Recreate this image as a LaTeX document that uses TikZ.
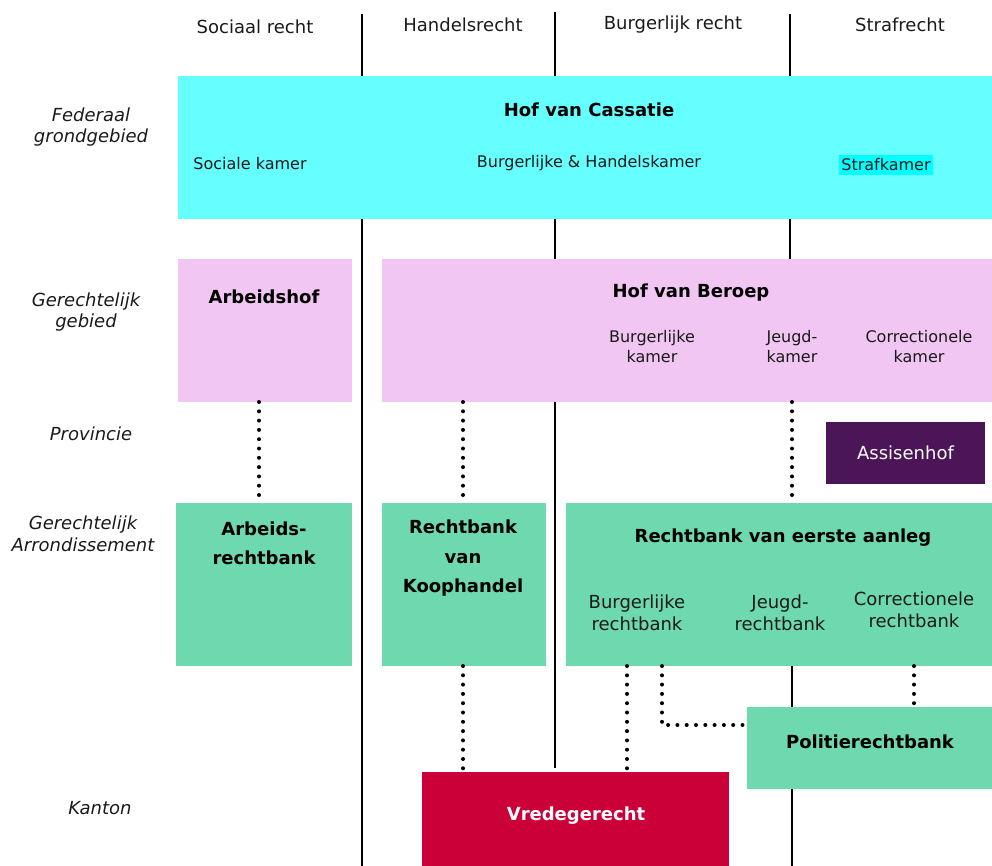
\documentclass[tikz,border=0pt]{standalone}
\usepackage{fontspec}
\setmainfont{DejaVu Sans}
\usetikzlibrary{calc}
\definecolor{cyanbox}{HTML}{66FFFF}
\definecolor{cyanhl}{HTML}{00FFFF}
\definecolor{pinkbox}{HTML}{F1C6F2}
\definecolor{greenbox}{HTML}{6ED8AE}
\definecolor{purplebox}{HTML}{4B1558}
\definecolor{redbox}{HTML}{CC0039}
\definecolor{txt}{HTML}{1A1A1A}
\begin{document}
\begin{tikzpicture}[x=1pt,y=-1pt,
  box/.style={anchor=north west, inner sep=0pt, outer sep=0pt, draw=none},
  big/.style={font=\fontsize{18}{22}\selectfont, align=center, inner sep=0pt, text=txt},
  bigb/.style={font=\fontsize{18}{29.5}\selectfont\bfseries, align=center, inner sep=0pt},
  small/.style={font=\fontsize{16}{20}\selectfont, align=center, inner sep=0pt, text=txt},
  rowlab/.style={font=\fontsize{18}{21.5}\selectfont\itshape, align=center, inner sep=0pt, text=txt},
  divider/.style={line width=1.5pt, black},
  dots/.style={line width=4pt, line cap=round, dash pattern=on 0pt off 9.3pt}
]
\useasboundingbox (0,0) rectangle (992,866);

% column dividers (behind the boxes)
\coordinate (d1top) at (362,14);   \coordinate (d1bot) at (362,866);
\coordinate (d2top) at (555,12);   \coordinate (d2bot) at (555,768);
\coordinate (d3top) at (790,14);   \coordinate (d3bot) at (790,260);
\coordinate (d4bot) at (792,866);
\draw[divider] (d1top) -- (d1bot);
\draw[divider] (d2top) -- (d2bot);
\draw[divider] (d3top) -- (d3bot);

% column headers
\node[big] (hSoc) at (255,27) {Sociaal recht};
\node[big] (hHan) at (463,25) {Handelsrecht};
\node[big] (hBur) at (673,25) {Burgerlijk recht};
\node[big] (hStr) at (900,25) {Strafrecht};

% row labels
\node[rowlab] (rFed) at (91,127) {Federaal\\grondgebied};
\node[rowlab] (rGeb) at (86,312) {Gerechtelijk\\gebied};
\node[rowlab] (rPro) at (91,434) {Provincie};
\node[rowlab] (rArr) at (83,534) {Gerechtelijk\\Arrondissement};
\node[rowlab] (rKan) at (100,808) {Kanton};

% Hof van Cassatie
\node[box, fill=cyanbox, minimum width=814pt, minimum height=143pt] (cass) at (178,76) {};
\node[bigb] (cassT) at (589,110) {Hof van Cassatie};
\node[small] (cassS) at (250,164) {Sociale kamer};
\node[small] (cassB) at (589,163) {Burgerlijke \& Handelskamer};
\node[small, fill=cyanhl, inner xsep=2pt, minimum height=20pt] (cassF) at (886,165) {Strafkamer};

% Gerechtelijk gebied
\node[box, fill=pinkbox, minimum width=174pt, minimum height=143pt] (ahof) at (178,259) {};
\node[bigb] (ahofT) at (264,297) {Arbeidshof};
\node[box, fill=pinkbox, minimum width=610pt, minimum height=143pt] (hvb) at (382,259) {};
\node[bigb] (hvbT) at (691,293) {Hof van Beroep};
\node[small] (hvbB) at (652,347) {Burgerlijke\\kamer};
\node[small] (hvbJ) at (792,347) {Jeugd-\\kamer};
\node[small] (hvbC) at (919,347) {Correctionele\\kamer};

% Provincie
\node[box, fill=purplebox, minimum width=159pt, minimum height=62pt] (assis) at (826,422) {};
\node[big, text=white] (assisT) at (assis.center) {Assisenhof};

% Gerechtelijk arrondissement
\node[box, fill=greenbox, minimum width=176pt, minimum height=163pt] (arb) at (176,503) {};
\node[bigb] (arbT) at (264,543.5) {Arbeids-\\rechtbank};
\node[box, fill=greenbox, minimum width=164pt, minimum height=163pt] (kh) at (382,503) {};
\node[bigb] (khT) at (463,558.5) {Rechtbank\\van\\Koophandel};
\node[box, fill=greenbox, minimum width=426pt, minimum height=163pt] (reoa) at (566,503) {};
\node[bigb] (reoaT) at (783,538) {Rechtbank van eerste aanleg};
\node[big] (reoaB) at (637,613) {Burgerlijke\\rechtbank};
\node[big] (reoaJ) at (780,613) {Jeugd-\\rechtbank};
\node[big] (reoaC) at (914,610) {Correctionele\\rechtbank};

% lower divider segment
\draw[divider] (reoa.south -| hvbJ) -- (d4bot);

% Politierechtbank
\node[box, fill=greenbox, minimum width=245pt, minimum height=82pt] (pol) at (747,707) {};
\node[bigb] (polT) at (870,742) {Politierechtbank};

% Vredegerecht
\node[box, fill=redbox, minimum width=307pt, minimum height=94pt] (vrede) at (422,772) {};
\node[bigb, text=white] (vredeT) at (576,816) {Vredegerecht};

% dotted connectors
\draw[dots] ([xshift=-6pt]ahof.south) -- ([xshift=-6pt]ahof.south |- arb.north);
\draw[dots] (hvb.south -| khT) -- (khT |- kh.north);
\draw[dots] (hvb.south -| hvbJ) -- (hvbJ |- reoa.north);
\draw[dots] (kh.south -| khT) -- (khT |- vrede.north);
\draw[dots] ([xshift=61pt]reoa.south west) -- ([xshift=61pt]reoa.south west |- vrede.north);
\draw[dots] ([xshift=96pt]reoa.south west) |- ([yshift=-18pt]pol.north west);
\draw[dots] (reoa.south -| reoaC) -- (reoaC |- pol.north);
\end{tikzpicture}
\end{document}
